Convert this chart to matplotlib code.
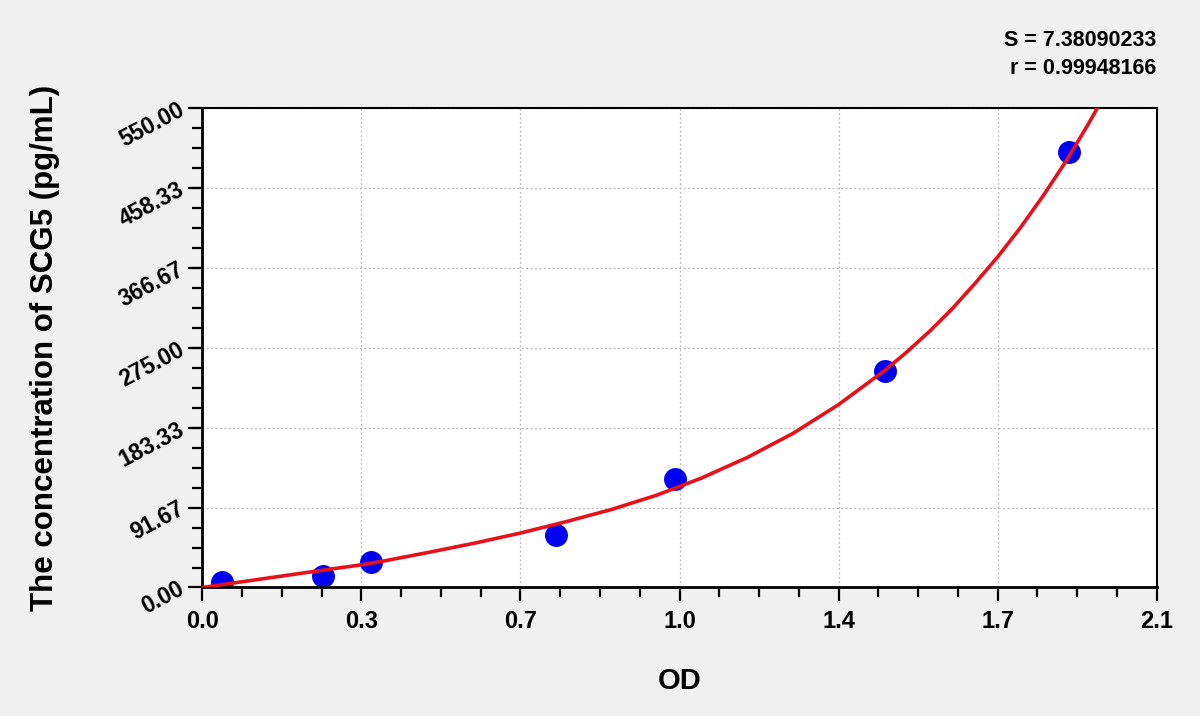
import numpy as np
import matplotlib
matplotlib.use("Agg")
import matplotlib.pyplot as plt
from matplotlib.ticker import AutoMinorLocator

plt.rcParams['font.family'] = ['Liberation Sans', 'DejaVu Sans']
plt.rcParams['font.weight'] = 'bold'

# standard points (OD, concentration)
od_points = [0.043, 0.265, 0.371, 0.779, 1.040, 1.503, 1.906]
conc_points = [6.4, 13.3, 29.5, 60.3, 124.5, 248.0, 499.5]

# fitted curve
curve_od = [0.0, 0.1, 0.2, 0.3, 0.35, 0.4, 0.5, 0.6, 0.7, 0.8, 0.9, 1.0,
            1.1, 1.2, 1.3, 1.4, 1.5, 1.55, 1.6, 1.65, 1.7, 1.75, 1.8, 1.85,
            1.9, 1.95, 1.97]
curve_conc = [0.0, 7.5, 15.0, 22.4, 26.0, 30.5, 40.5, 51.0, 62.5, 75.5, 89.5, 106.0,
              126.0, 149.5, 177.0, 210.0, 248.5, 270.3, 294.0, 320.0, 349.0, 379.5, 413.0, 449.6,
              489.0, 532.5, 551.0]

x_ticks = [0.0, 0.35, 0.70, 1.05, 1.40, 1.75, 2.10]
x_tick_labels = ['0.0', '0.3', '0.7', '1.0', '1.4', '1.7', '2.1']
y_ticks = [0.0, 91.67, 183.33, 275.0, 366.67, 458.33, 550.0]
y_tick_labels = ['0.00', '91.67', '183.33', '275.00', '366.67', '458.33', '550.00']

s_value = '7.38090233'
r_value = '0.99948166'

fig = plt.figure(figsize=(12, 7.16), dpi=100, facecolor='#f0f0f0')
ax = fig.add_axes([0.1686, 0.1795, 0.7953, 0.669])
ax.set_facecolor('white')

ax.plot(curve_od, curve_conc, color='#e8101a', lw=2.6, zorder=3)
ax.plot(od_points, conc_points, 'o', color='#0000f0', ms=15.5, mec='#0000f0', zorder=2)

ax.set_xlim(0, 2.1)
ax.set_ylim(0, 550)
ax.set_xticks(x_ticks)
ax.set_xticklabels(x_tick_labels)
ax.set_yticks(y_ticks)
ax.set_yticklabels(y_tick_labels, rotation=28, rotation_mode='anchor',
                   ha='right', va='center')
ax.xaxis.set_minor_locator(AutoMinorLocator(4))
ax.yaxis.set_minor_locator(AutoMinorLocator(4))

ax.tick_params(axis='both', which='major', direction='out', length=10, width=1.6,
               top=False, right=False)
ax.tick_params(axis='x', which='major', pad=6, labelsize=17)
ax.tick_params(axis='y', which='major', pad=4, labelsize=16.5)
ax.tick_params(axis='both', which='minor', direction='out', length=7, width=1.6,
               top=False, right=False)
for lab in ax.get_xticklabels() + ax.get_yticklabels():
    lab.set_fontweight('bold')

ax.grid(True, which='major', color='#b8b8b8', ls=(0, (1.5, 2)), lw=0.9)
ax.set_axisbelow(True)

for side in ['left', 'bottom']:
    ax.spines[side].set_linewidth(2.0)
for side in ['top', 'right']:
    ax.spines[side].set_linewidth(1.5)

fig.text(0.5663, 0.049, 'OD', fontsize=21, fontweight='bold', ha='center', va='center')
fig.text(0.0375, 0.514, 'The concentration of SCG5 (pg/mL)', fontsize=22.5,
         fontweight='bold', rotation=90, ha='center', va='center')

fig.text(0.9639, 0.944, 'S = ' + s_value, fontsize=15.5, fontweight='bold',
         ha='right', va='center')
fig.text(0.9639, 0.904, 'r = ' + r_value, fontsize=15.5, fontweight='bold',
         ha='right', va='center')

fig.savefig('out.png', dpi=100, facecolor=fig.get_facecolor())
